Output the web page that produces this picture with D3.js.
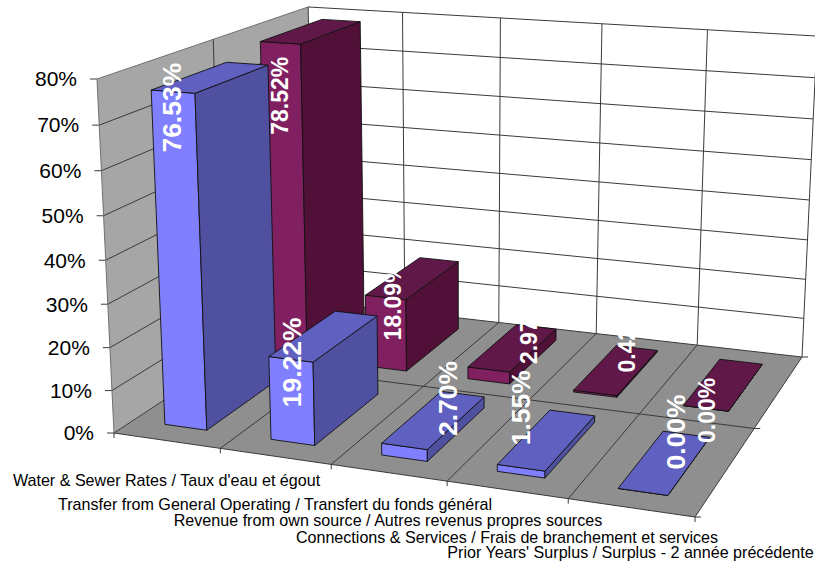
<!DOCTYPE html>
<html><head><meta charset="utf-8">
<script src="https://cdn.jsdelivr.net/npm/d3@7/dist/d3.min.js"></script>
<style>html,body{margin:0;padding:0;background:#fff}svg{display:block}text{font-family:"Liberation Sans",Arial,sans-serif}</style>
</head><body><svg id="c" width="815" height="563"></svg>
<script>
const categories=["Water & Sewer Rates / Taux d'eau et égout","Transfer from General Operating / Transfert du fonds général","Revenue from own source / Autres revenus propres sources","Connections & Services / Frais de branchement et services","Prior Years' Surplus / Surplus - 2 année précédente"];
const frontValues=[76.53,19.22,2.70,1.55,0.00];
const backValues=[78.52,18.09,2.97,0.42,0.00];
const valueTicks=[0,10,20,30,40,50,60,70,80];

// layout
const floorQuad=[[114,433],[695,517],[802,357],[314,301.5]];
const wallTopFront=[97,79], verticalVP=[460,7637];
const catLabelPos=[[166.5,486],[275,510],[388,526],[507,543],[630.5,558]];
const frontLabelOffsets=[[-1,16],[1,3],[43,-48],[0,-60],[33,-60]];
const backLabelOffsets=[[0,53],[7.5,4],[40,-38],[32,-53],[1,2]];
const frontColors={face:"#8080ff",top:"#6060c0",side:"#5050a0"};
const backColors={face:"#802060",top:"#601848",side:"#501038"};

// projective camera built from the four floor corners
const [[x0,y0],[x1,y1],[x2,y2],[x3,y3]]=floorQuad;
const dx1=x1-x2,dx2=x3-x2,dx3=x0-x1+x2-x3,dy1=y1-y2,dy2=y3-y2,dy3=y0-y1+y2-y3;
const den=dx1*dy2-dx2*dy1;
const G=(dx3*dy2-dx2*dy3)/den,H=(dx1*dy3-dx3*dy1)/den;
const A=x1-x0+G*x1,B=x3-x0+H*x3,D=y1-y0+G*y1,E=y3-y0+H*y3;
const K=(wallTopFront[1]-y0)/(verticalVP[1]-wallTopFront[1]);
const uScale=d3.scaleLinear().domain([0,categories.length]).range([0,1]);
const vScale=d3.scaleLinear().domain([0,1]).range([0,1]);
const hScale=d3.scaleLinear().domain([0,80]).range([0,1]);
function project(c,r,val){
  const u=uScale(c),v=vScale(r),h=hScale(val);
  const w=G*u+H*v+1+K*h;
  return [(A*u+B*v+x0+K*h*verticalVP[0])/w,(D*u+E*v+y0+K*h*verticalVP[1])/w];
}
const svg=d3.select("#c");
const path=d3.line();
const poly=(pts,fill,stroke,sw)=>svg.append("path").attr("d",path(pts)+"Z").attr("fill",fill).attr("stroke",stroke||"none").attr("stroke-width",sw||1).attr("stroke-linejoin","round");
const seg=(a,b,stroke,sw)=>svg.append("line").attr("x1",a[0]).attr("y1",a[1]).attr("x2",b[0]).attr("y2",b[1]).attr("stroke",stroke).attr("stroke-width",sw||1);
const n=categories.length, maxV=80, gridC="#3a3a3a";

// walls and floor
poly([project(0,1,0),project(n,1,0),project(n,1,maxV),project(0,1,maxV)],"#fff");
poly([project(0,0,0),project(0,1,0),project(0,1,maxV),project(0,0,maxV)],"#a6a6a6");
poly([project(0,0,0),project(n,0,0),project(n,1,0),project(0,1,0)],"#8f8f8f");
valueTicks.forEach(t=>{
  seg(project(0,0,t),project(0,1,t),t===80?"#707070":gridC);
  seg(project(0,1,t),project(n,1,t),gridC);
  const p=project(0,0,t);
  seg([p[0]-7,p[1]],p,gridC);
  svg.append("text").attr("x",p[0]-20).attr("y",p[1]).attr("dy","0.35em").attr("text-anchor","end").attr("font-size",21).attr("fill","#000").text(t+"%");
});
seg(project(0,0,0),project(0,0,maxV),"#707070");
seg(project(n,1,0),project(n,1,maxV),gridC);
seg(project(0,.5,0),project(0,.5,maxV),gridC);
seg(project(0,1,0),project(0,1,maxV),gridC);
d3.range(1,n).forEach(i=>{
  seg(project(i,1,0),project(i,1,maxV),gridC);
  seg(project(i,0,0),project(i,1,0),gridC);
});
seg(project(0,.5,0),project(n,.5,0),gridC);
seg(project(0,0,0),project(n,0,0),gridC);
seg(project(n,0,0),project(n,1,0),gridC);
d3.range(0,n+1).forEach(i=>{const p=project(i,0,0);seg(p,[p[0],p[1]+5],gridC);});
[0,.5,1].forEach(r=>{const p=project(n,r,0);seg(p,[p[0]+6,p[1]],gridC);});

// bars
const halfBar=0.2, halfDepth=1/6;
function bar(i,rowCenter,val,col){
  const u0=i+.5-halfBar*1, u1=i+.5+halfBar*1;
  const v0=rowCenter-halfDepth, v1=rowCenter+halfDepth;
  poly([project(u0,v0,0),project(u1,v0,0),project(u1,v0,val),project(u0,v0,val)],col.face,"#111",.9);
  poly([project(u1,v0,0),project(u1,v1,0),project(u1,v1,val),project(u1,v0,val)],col.side,"#111",.9);
  poly([project(u0,v0,val),project(u1,v0,val),project(u1,v1,val),project(u0,v1,val)],col.top,"#111",.9);
}
backValues.forEach((v,i)=>bar(i,.75,v,backColors));
frontValues.forEach((v,i)=>bar(i,.25,v,frontColors));

// value labels
function labels(vals,rowCenter,offs,size){
  vals.forEach((v,i)=>{
    const p=project(i+.5,rowCenter-halfDepth,v);
    svg.append("text").attr("transform",`translate(${p[0]+offs[i][0]},${p[1]+offs[i][1]}) rotate(-90)`)
      .attr("dy","0.35em").attr("text-anchor","middle").attr("font-size",size).attr("font-weight","bold").attr("fill","#fff").text(v.toFixed(2)+"%");
  });
}
labels(backValues,.75,backLabelOffsets,23);
labels(frontValues,.25,frontLabelOffsets,26.5);

// category labels
categories.forEach((c,i)=>{
  svg.append("text").attr("x",catLabelPos[i][0]).attr("y",catLabelPos[i][1]).attr("text-anchor","middle").attr("font-size",16.1).attr("fill","#000").text(c);
});
</script></body></html>
